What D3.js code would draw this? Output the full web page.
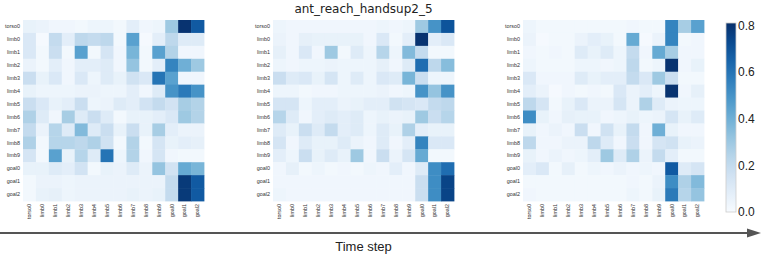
<!DOCTYPE html>
<html lang="en">
<head>
<meta charset="UTF-8">
<script src="https://d3js.org/d3.v7.min.js"></script>
<style>
  body { margin: 0; background: #fff; }
  svg { display: block; font-family: "DejaVu Sans", sans-serif; }
  .axis path, .axis line { display: none; }
  .axis text { fill: #333; font-size: 5.4px; }
</style>
</head>
<body>
<svg width="761" height="256"></svg>
<script>
// node labels (rows and columns are the same)
var labels = ["torso0","limb0","limb1","limb2","limb3","limb4","limb5","limb6","limb7","limb8","limb9","goal0","goal1","goal2"];
var colorTicks = [0.0, 0.2, 0.4, 0.6, 0.8];
var title = "ant_reach_handsup2_5";

// attention weights at three time steps, one row per query node
var step1 = [
  [0.06,0.05,0.03,0.03,0.02,0.04,0.04,0.02,0.08,0.03,0.04,0.30,0.80,0.68],
  [0.12,0.01,0.20,0.08,0.22,0.20,0.22,0.02,0.45,0.01,0.08,0.22,0.10,0.10],
  [0.12,0.02,0.18,0.02,0.45,0.02,0.14,0.03,0.38,0.02,0.45,0.25,0.03,0.03],
  [0.05,0.02,0.08,0.03,0.08,0.08,0.10,0.03,0.32,0.02,0.08,0.55,0.40,0.30],
  [0.18,0.06,0.12,0.03,0.12,0.04,0.10,0.06,0.16,0.12,0.60,0.45,0.03,0.03],
  [0.06,0.04,0.04,0.04,0.05,0.05,0.04,0.04,0.08,0.03,0.10,0.50,0.58,0.50],
  [0.18,0.12,0.06,0.08,0.18,0.04,0.05,0.10,0.08,0.15,0.20,0.15,0.28,0.25],
  [0.26,0.10,0.03,0.28,0.10,0.18,0.10,0.02,0.06,0.06,0.08,0.12,0.30,0.25],
  [0.20,0.05,0.24,0.10,0.36,0.10,0.18,0.06,0.18,0.06,0.28,0.08,0.05,0.05],
  [0.26,0.02,0.24,0.24,0.22,0.26,0.16,0.02,0.25,0.02,0.14,0.06,0.08,0.07],
  [0.14,0.02,0.45,0.06,0.24,0.10,0.60,0.04,0.25,0.03,0.14,0.03,0.02,0.02],
  [0.06,0.06,0.10,0.08,0.15,0.02,0.06,0.05,0.10,0.05,0.32,0.15,0.42,0.38],
  [0.02,0.05,0.05,0.04,0.05,0.05,0.05,0.05,0.05,0.05,0.05,0.20,0.78,0.68],
  [0.02,0.06,0.07,0.04,0.05,0.05,0.05,0.05,0.06,0.05,0.06,0.20,0.78,0.68]
];
var step2 = [
  [0.04,0.03,0.03,0.03,0.03,0.03,0.03,0.03,0.04,0.03,0.04,0.30,0.50,0.70],
  [0.05,0.03,0.07,0.06,0.06,0.06,0.06,0.03,0.12,0.02,0.08,0.80,0.08,0.12],
  [0.07,0.03,0.12,0.03,0.30,0.02,0.10,0.04,0.24,0.04,0.36,0.20,0.02,0.02],
  [0.04,0.03,0.04,0.04,0.05,0.04,0.04,0.04,0.07,0.03,0.10,0.62,0.22,0.35],
  [0.18,0.10,0.12,0.06,0.14,0.04,0.10,0.04,0.12,0.10,0.38,0.18,0.04,0.04],
  [0.04,0.04,0.02,0.03,0.03,0.04,0.04,0.04,0.05,0.03,0.04,0.50,0.32,0.50],
  [0.14,0.14,0.04,0.08,0.08,0.05,0.06,0.08,0.08,0.16,0.14,0.12,0.20,0.22],
  [0.24,0.10,0.03,0.08,0.10,0.08,0.10,0.04,0.06,0.05,0.06,0.30,0.18,0.24],
  [0.10,0.06,0.18,0.10,0.20,0.08,0.10,0.04,0.10,0.06,0.26,0.08,0.06,0.06],
  [0.14,0.03,0.10,0.06,0.06,0.10,0.05,0.03,0.10,0.03,0.08,0.55,0.12,0.12],
  [0.08,0.04,0.18,0.06,0.10,0.06,0.30,0.03,0.18,0.05,0.14,0.42,0.02,0.02],
  [0.03,0.07,0.02,0.04,0.02,0.03,0.02,0.04,0.03,0.08,0.03,0.10,0.52,0.62],
  [0.03,0.03,0.03,0.03,0.03,0.03,0.03,0.03,0.03,0.03,0.03,0.18,0.52,0.75],
  [0.04,0.03,0.03,0.03,0.03,0.03,0.03,0.03,0.03,0.03,0.03,0.18,0.52,0.75]
];
var step3 = [
  [0.04,0.02,0.02,0.02,0.02,0.02,0.02,0.02,0.03,0.02,0.02,0.55,0.28,0.45],
  [0.05,0.01,0.02,0.02,0.05,0.08,0.06,0.02,0.42,0.01,0.05,0.55,0.02,0.03],
  [0.03,0.02,0.03,0.02,0.10,0.06,0.10,0.04,0.20,0.03,0.42,0.28,0.03,0.03],
  [0.04,0.02,0.02,0.02,0.04,0.04,0.03,0.04,0.22,0.02,0.04,0.80,0.03,0.06],
  [0.12,0.03,0.03,0.03,0.10,0.06,0.08,0.08,0.20,0.12,0.30,0.18,0.02,0.02],
  [0.08,0.05,0.01,0.03,0.02,0.03,0.02,0.12,0.05,0.08,0.04,0.80,0.03,0.07],
  [0.22,0.14,0.02,0.06,0.12,0.05,0.05,0.14,0.05,0.26,0.10,0.05,0.04,0.04],
  [0.52,0.06,0.03,0.07,0.06,0.06,0.03,0.04,0.06,0.04,0.05,0.14,0.06,0.10],
  [0.06,0.03,0.05,0.03,0.18,0.03,0.16,0.06,0.20,0.03,0.40,0.06,0.03,0.03],
  [0.22,0.03,0.03,0.05,0.05,0.22,0.10,0.03,0.18,0.03,0.14,0.16,0.06,0.05],
  [0.06,0.03,0.05,0.03,0.04,0.08,0.30,0.10,0.26,0.05,0.20,0.08,0.02,0.02],
  [0.08,0.12,0.02,0.07,0.02,0.04,0.03,0.05,0.03,0.04,0.03,0.68,0.10,0.14],
  [0.02,0.02,0.02,0.02,0.02,0.02,0.02,0.02,0.03,0.02,0.05,0.52,0.26,0.36],
  [0.03,0.02,0.02,0.02,0.02,0.02,0.02,0.02,0.04,0.02,0.06,0.58,0.24,0.32]
];
var steps = [step1, step2, step3];

var svg = d3.select("svg");
var size = 181, top0 = 20;
var lefts = [23, 273, 523];

var color = d3.scaleSequential(d3.interpolateBlues).domain([0, 0.81]);
var x = d3.scaleBand().domain(labels).range([0, size]);
var y = d3.scaleBand().domain(labels).range([0, size]);

steps.forEach(function(m, k) {
  var g = svg.append("g").attr("transform", "translate(" + lefts[k] + "," + top0 + ")");

  var cells = [];
  m.forEach(function(row, i) {
    row.forEach(function(v, j) { cells.push({r: labels[i], c: labels[j], v: v}); });
  });

  g.selectAll("rect").data(cells).enter().append("rect")
    .attr("x", function(d) { return x(d.c); })
    .attr("y", function(d) { return y(d.r); })
    .attr("width", x.bandwidth() + 0.4)
    .attr("height", y.bandwidth() + 0.4)
    .attr("fill", function(d) { return color(d.v); });

  g.append("g").attr("class", "axis")
    .call(d3.axisLeft(y).tickSize(0).tickPadding(3));

  g.append("g").attr("class", "axis")
    .attr("transform", "translate(0," + size + ")")
    .call(d3.axisBottom(x).tickSize(0).tickPadding(3))
    .selectAll("text")
      .attr("transform", "rotate(-90)")
      .attr("text-anchor", "end")
      .attr("x", -3)
      .attr("y", 0)
      .attr("dy", "0.35em");
});

// title over the middle heatmap
svg.append("text")
  .attr("x", lefts[1] + size / 2).attr("y", 13)
  .attr("text-anchor", "middle")
  .style("font-size", "12px").style("fill", "#222")
  .text(title);

// colorbar
var cbX = 726, cbW = 10, cbTop = 23, cbBottom = 212;
var cbScale = d3.scaleLinear().domain([0, 0.81]).range([cbBottom, cbTop]);
var defs = svg.append("defs");
var grad = defs.append("linearGradient").attr("id", "cbgrad")
  .attr("x1", 0).attr("y1", 1).attr("x2", 0).attr("y2", 0);
d3.range(0, 1.0001, 0.1).forEach(function(t) {
  grad.append("stop").attr("offset", t).attr("stop-color", color(t * 0.81));
});
svg.append("rect")
  .attr("x", cbX).attr("y", cbTop)
  .attr("width", cbW).attr("height", cbBottom - cbTop)
  .attr("fill", "url(#cbgrad)")
  .attr("stroke", "#ccc").attr("stroke-width", 0.8);
svg.append("g")
  .attr("transform", "translate(" + (cbX + cbW) + ",0)")
  .call(d3.axisRight(cbScale).tickValues(colorTicks).tickFormat(d3.format(".1f")).tickSize(0).tickPadding(2))
  .call(function(a) { a.select(".domain").remove(); })
  .selectAll("text").style("font-size", "12px").style("fill", "#222");

// time arrow
svg.append("line")
  .attr("x1", 0).attr("x2", 749).attr("y1", 233).attr("y2", 233)
  .attr("stroke", "#555").attr("stroke-width", 2.2);
svg.append("path")
  .attr("d", "M747,228.5 L761,233 L747,237.5 Z")
  .attr("fill", "#555");
svg.append("text")
  .attr("x", lefts[1] + size / 2).attr("y", 251)
  .attr("text-anchor", "middle")
  .style("font-family", "'Liberation Sans', sans-serif")
  .style("font-size", "13px").style("fill", "#222")
  .text("Time step");
</script>
</body>
</html>
